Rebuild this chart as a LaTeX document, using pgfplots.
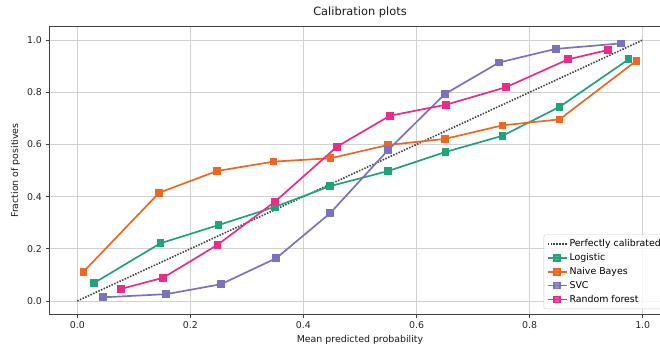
\documentclass[border=0pt]{standalone}
\usepackage{fontspec}
\setmainfont{DejaVu Sans}
\usepackage{pgfplots}
\pgfplotsset{compat=1.18}
\definecolor{cgreen}{HTML}{1EA37A}
\definecolor{corange}{HTML}{F0661F}
\definecolor{cpurple}{HTML}{7A72BE}
\definecolor{cpink}{HTML}{EC2A8A}
\begin{document}
\begin{tikzpicture}
\useasboundingbox (-49pt,-31pt) rectangle (611pt,314pt);
\clip (-49pt,-31pt) rectangle (611pt,314pt);
\begin{axis}[
  at={(0,0)}, anchor=south west,
  scale only axis, width=622pt, height=287pt,
  xmin=-0.05, xmax=1.05, ymin=-0.05, ymax=1.05,
  xtick={0,0.2,0.4,0.6,0.8,1.0},
  ytick={0,0.2,0.4,0.6,0.8,1.0},
  /pgf/number format/assume math mode=true,
  /pgf/number format/fixed, /pgf/number format/fixed zerofill, /pgf/number format/precision=1,
  tick label style={font=\fontsize{9.4}{11}\selectfont, text=black!85},
  label style={font=\fontsize{9.4}{11}\selectfont, text=black!90},
  title style={font=\fontsize{11.4}{13}\selectfont, text=black!90},
  title={Calibration plots},
  xlabel={Mean predicted probability},
  ylabel={Fraction of positives},
  tick align=outside, major tick length=3.5pt,
  tick style={draw=black!75, line width=0.8pt},
  xtick pos=bottom, ytick pos=left,
  axis line style={draw=black!75, line width=1pt},
  grid=major, major grid style={draw=black!18, line width=0.9pt},
  every axis plot/.append style={line width=1.7pt},
  mark options={solid},
  legend image code/.code={\draw[mark repeat=2,mark phase=2,#1] plot coordinates {(0pt,0pt) (9.5pt,0pt) (19pt,0pt)};},
  legend style={at={(1,0)}, anchor=south east, xshift=-5pt, yshift=5pt,
    draw=black!20, fill=white, fill opacity=0.8, text opacity=1,
    rounded corners=2pt, font=\fontsize{9.4}{11}\selectfont,
    inner xsep=3pt, inner ysep=2.5pt, nodes={inner ysep=2.6pt}},
  legend cell align=left,
]
\addplot[black!75, dash pattern=on 1.5pt off 1.4pt, line width=1.6pt] coordinates {(0,0) (1,1)};
\addlegendentry{Perfectly calibrated}
\addplot[cgreen, mark=square*, mark size=3pt] coordinates {
(0.029,0.068) (0.147,0.221) (0.250,0.291) (0.350,0.361) (0.447,0.440)
(0.550,0.498) (0.651,0.571) (0.752,0.633) (0.853,0.744) (0.975,0.926)};
\addlegendentry{Logistic}
\addplot[corange, mark=square*, mark size=3pt] coordinates {
(0.011,0.112) (0.145,0.415) (0.247,0.498) (0.347,0.534) (0.448,0.547)
(0.550,0.598) (0.650,0.621) (0.752,0.673) (0.853,0.696) (0.989,0.921)};
\addlegendentry{Naive Bayes}
\addplot[cpurple, mark=square*, mark size=3pt] coordinates {
(0.046,0.014) (0.157,0.026) (0.254,0.064) (0.352,0.164) (0.447,0.336)
(0.550,0.579) (0.650,0.793) (0.746,0.914) (0.846,0.966) (0.961,0.987)};
\addlegendentry{SVC}
\addplot[cpink, mark=square*, mark size=3pt] coordinates {
(0.077,0.046) (0.152,0.089) (0.248,0.215) (0.350,0.381) (0.459,0.591)
(0.553,0.710) (0.652,0.752) (0.758,0.819) (0.868,0.926) (0.939,0.962)};
\addlegendentry{Random forest}
\end{axis}
\end{tikzpicture}
\end{document}
